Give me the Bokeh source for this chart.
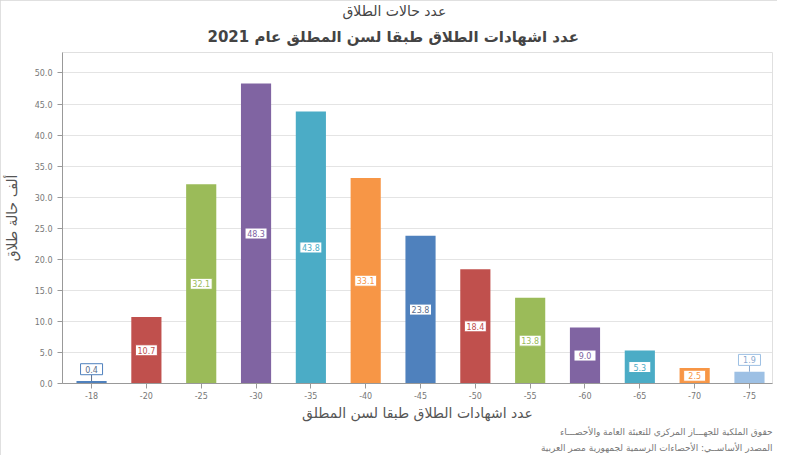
import numpy as np
from bokeh.plotting import figure
from bokeh.models import (ColumnDataSource, Range1d, FixedTicker, NumeralTickFormatter, Title)
from bokeh.core.properties import value
from bokeh.embed import file_html
from bokeh.resources import INLINE

# ---- data ----
age_labels = ["-18", "-20", "-25", "-30", "-35", "-40", "-45", "-50", "-55", "-60", "-65", "-70", "-75"]
divorces_k = [0.4, 10.7, 32.1, 48.3, 43.8, 33.1, 23.8, 18.4, 13.8, 9.0, 5.3, 2.5, 1.9]
bar_colors = ["#4F81BD", "#C0504D", "#9BBB59", "#8064A2", "#4BACC6", "#F79646",
              "#4F81BD", "#C0504D", "#9BBB59", "#8064A2", "#4BACC6", "#F79646", "#9DC0E4"]
title_line1 = "عدد حالات الطلاق"
title_line2 = "عدد اشهادات الطلاق طبقا لسن المطلق عام 2021"
y_title = "ألف حالة طلاق"
x_title = "عدد اشهادات الطلاق طبقا لسن المطلق"
footer1 = "حقوق الملكية للجهـــاز المركزي للتعبئة العامة والأحصـــاء"
footer2 = "المصدر الأساســي: الأحصاءات الرسمية لجمهورية مصر العربية"

FONT = "DejaVu Sans"

n = len(age_labels)
xs = list(range(n))
vals = np.array(divorces_k)
small = vals < 2.2
label_y = np.where(small, vals + 1.9, vals / 2.0)
text_colors = [("#5B6E8C" if c == "#4F81BD" else ("#8AA9CF" if c == "#9DC0E4" else c)) for c in bar_colors]
src = ColumnDataSource(dict(x=xs, top=divorces_k, color=bar_colors, ly=label_y.tolist(),
                            txt=[f"{v:.1f}" for v in divorces_k], tcolor=text_colors))

p = figure(width=777, height=455, output_backend="svg", toolbar_location=None,
           x_range=Range1d(-0.53, 12.42), y_range=Range1d(0, 53.3),
           min_border_left=62, min_border_right=5, min_border_top=4, min_border_bottom=0)

p.title.text = title_line1
p.title.text_font = FONT
p.title.text_font_size = "14px"
p.title.text_font_style = "normal"
p.title.text_color = "#444444"
p.title.align = "left"
p.title.offset = 280
p.title.standoff = 0
p.add_layout(Title(text=title_line2, text_font=FONT, text_font_size="15px",
                   text_font_style="bold", text_color="#444444", align="left",
                   offset=145, standoff=14), "above")

p.vbar(x="x", top="top", width=0.55, color="color", line_color=None, source=src)

# connectors for small bars
sm = ColumnDataSource(dict(x=[xs[i] for i in range(n) if small[i]],
                           y0=[divorces_k[i] for i in range(n) if small[i]],
                           y1=[label_y[i] - 0.9 for i in range(n) if small[i]],
                           color=[text_colors[i] for i in range(n) if small[i]]))
p.segment(x0="x", y0="y0", x1="x", y1="y1", line_color="color", line_width=1, source=sm)

p.rect(x="x", y="ly", width=22, height=11, width_units="screen", height_units="screen",
       fill_color="white", line_color="color", line_width=1, source=src)
p.text(x="x", y="ly", text="txt", text_color="tcolor", text_align="center", text_baseline="middle",
       text_font=value(FONT), text_font_size="8px", source=src)

# axes
p.xaxis.ticker = FixedTicker(ticks=xs)
p.xaxis.major_label_overrides = {i: lab for i, lab in enumerate(age_labels)}
p.xaxis.axis_label = x_title
p.yaxis.axis_label = y_title
p.yaxis.ticker = FixedTicker(ticks=list(range(0, 51, 5)))
p.yaxis.formatter = NumeralTickFormatter(format="0.0")
for ax in (p.xaxis, p.yaxis):
    ax.axis_label_text_font = FONT
    ax.axis_label_text_font_style = "normal"
    ax.axis_label_text_color = "#555555"
    ax.major_label_text_font = FONT
    ax.major_label_text_font_size = "8px"
    ax.major_label_text_color = "#777777"
    ax.axis_line_color = "#999999"
    ax.major_tick_line_color = "#999999"
    ax.minor_tick_line_color = None
    ax.major_tick_in = 0
    ax.major_tick_out = 5
p.xaxis.axis_label_text_font_size = "14px"
p.yaxis.axis_label_text_font_size = "14px"
p.xaxis.axis_label_standoff = 3
p.yaxis.axis_label_standoff = 12
p.xaxis.major_label_standoff = 3

p.add_layout(Title(text=footer1, text_font=FONT, text_font_size="9px", text_font_style="normal",
                   text_color="#777777", align="right", standoff=2), "below")
p.add_layout(Title(text=footer2, text_font=FONT, text_font_size="9px", text_font_style="normal",
                   text_color="#777777", align="right", standoff=6), "below")

p.xgrid.grid_line_color = None
p.ygrid.grid_line_color = "#e4e4e4"
p.outline_line_color = "#e0e0e0"
p.background_fill_color = "white"
p.border_fill_color = "white"
p.styles = {"outline": "2px solid #d6d6d6", "outline-offset": "-2px"}

open("out.html", "w").write(file_html(p, INLINE))
